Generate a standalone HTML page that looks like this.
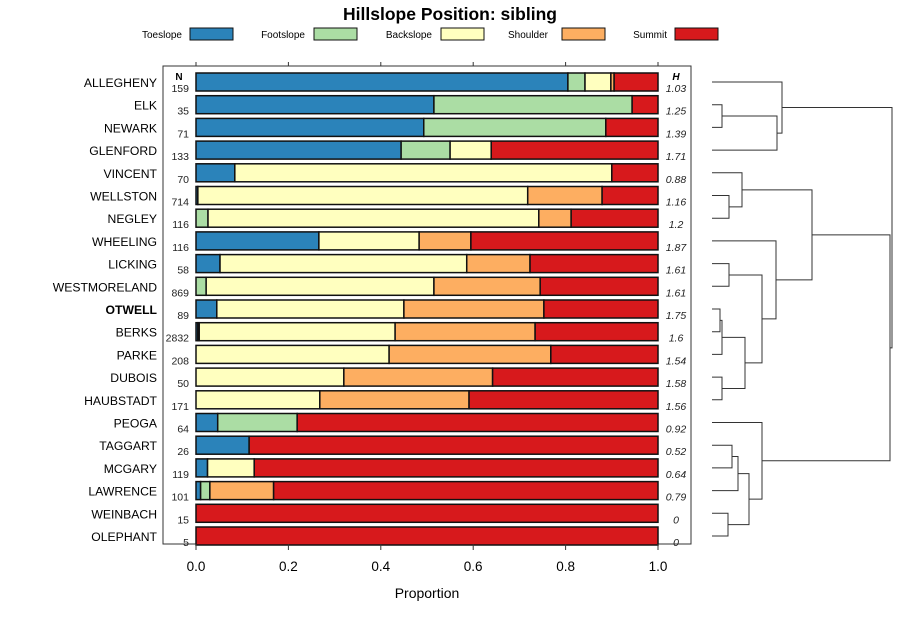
<!DOCTYPE html>
<html><head><meta charset="utf-8"><style>
body{margin:0;background:#fff;font-family:"Liberation Sans",sans-serif}
svg text{font-family:"Liberation Sans",sans-serif}
</style></head><body>
<svg id="chart" width="900" height="620" viewBox="0 0 900 620" xmlns="http://www.w3.org/2000/svg">
<text x="450" y="20" text-anchor="middle" font-size="17.5" font-weight="bold">Hillslope Position: sibling</text>
<g id="legend"></g>
<rect x="163" y="66" width="528" height="478" fill="none" stroke="#333" stroke-width="1"/>
<g id="bars"></g><g id="labels"></g><g id="axis"></g><g id="dendro"></g>
<text x="427" y="598" text-anchor="middle" font-size="14">Proportion</text>
</svg>
<script>
const series = ["Toeslope","Footslope","Backslope","Shoulder","Summit"];
const colors = ["#2B83BA","#ABDDA4","#FFFFBF","#FDAE61","#D7191C"];
const categories = ["ALLEGHENY","ELK","NEWARK","GLENFORD","VINCENT","WELLSTON","NEGLEY","WHEELING","LICKING","WESTMORELAND","OTWELL","BERKS","PARKE","DUBOIS","HAUBSTADT","PEOGA","TAGGART","MCGARY","LAWRENCE","WEINBACH","OLEPHANT"];
const nValues = [159,35,71,133,70,714,116,116,58,869,89,2832,208,50,171,64,26,119,101,15,5];
const hValues = ["1.03","1.25","1.39","1.71","0.88","1.16","1.2","1.87","1.61","1.61","1.75","1.6","1.54","1.58","1.56","0.92","0.52","0.64","0.79","0","0"];
const toeslope  = [0.805,0.515,0.493,0.444,0.084,0.004,0,0.266,0.052,0,0.045,0.004,0,0,0,0.047,0.115,0.025,0.01,0,0];
const footslope = [0.037,0.429,0.394,0.106,0,0,0.026,0,0,0.022,0,0.003,0,0,0,0.172,0,0,0.02,0,0];
const backslope = [0.056,0,0,0.089,0.816,0.714,0.716,0.217,0.534,0.493,0.405,0.424,0.418,0.32,0.268,0,0,0.101,0,0,0];
const shoulder  = [0.007,0,0,0,0,0.161,0.07,0.112,0.137,0.23,0.303,0.303,0.35,0.322,0.323,0,0,0,0.138,0,0];
const xTicks = [0,0.2,0.4,0.6,0.8,1.0];
const tickLabels = ["0.0","0.2","0.4","0.6","0.8","1.0"];
const NS="http://www.w3.org/2000/svg";
function mk(tag,attrs,parent){const e=document.createElementNS(NS,tag);for(const k in attrs)e.setAttribute(k,attrs[k]);parent.appendChild(e);return e;}
const xs=v=>196+v*462;
const ys=i=>82+i*22.7;
const bars=document.getElementById('bars'),labels=document.getElementById('labels'),axis=document.getElementById('axis');
categories.forEach((c,i)=>{
  const vals=[toeslope[i],footslope[i],backslope[i],shoulder[i]];
  const sum=vals.reduce((a,b)=>a+b,0);vals.push(Math.max(0,1-sum));
  let acc=0;
  vals.forEach((v,k)=>{ if(v<=0)return;
    const r=mk('rect',{x:xs(acc),y:ys(i)-9,width:v*462,height:18,fill:colors[k],stroke:'#111','stroke-width':1.5},bars);
    
    
    acc+=v;});
  const t=mk('text',{x:157,y:ys(i)+5,'text-anchor':'end','font-size':12.2,'font-weight':c==='OTWELL'?'bold':'normal'},labels);t.textContent=c;
  
  
  const n=mk('text',{x:189,y:ys(i)+10,'text-anchor':'end','font-size':10.5,fill:'#222'},labels);n.textContent=nValues[i];
  
  
  const h=mk('text',{x:676,y:ys(i)+10,'text-anchor':'middle','font-size':10.5,'font-style':'italic',fill:'#222'},labels);h.textContent=hValues[i];
  
  
});
let t=mk('text',{x:179,y:80,'text-anchor':'middle','font-size':10,'font-weight':'bold'},labels);t.textContent='N';


t=mk('text',{x:676,y:80,'text-anchor':'middle','font-size':10,'font-weight':'bold','font-style':'italic'},labels);t.textContent='H';


xTicks.forEach((v,i)=>{
  mk('line',{x1:xs(v),x2:xs(v),y1:62,y2:66,stroke:'#333'},axis);
  mk('line',{x1:xs(v),x2:xs(v),y1:544,y2:550,stroke:'#333'},axis);
  const l=mk('text',{x:xs(v),y:571,'text-anchor':'middle','font-size':13.5},axis);l.textContent=tickLabels[i];
  
  
});
const lg=document.getElementById('legend');
const legX=[[182,190],[305,314],[432,441],[548,562],[667,675]];
series.forEach((s,k)=>{
  const tx=mk('text',{x:legX[k][0],y:38,'text-anchor':'end','font-size':10},lg);tx.textContent=s;
  
  
  const r=mk('rect',{x:legX[k][1],y:28,width:43,height:12,fill:colors[k],stroke:'#111'},lg);
  
  
});
const tree=[[0,[[1,2,722],3,777],782],[[4,[5,6,729],742],[7,[[8,9,729],[[[10,11,720],12,722],[13,14,722],745],762],776],812],[15,[[[16,17,732],18,738],[19,20,728],749],762],890];
const topTree=[tree[0],[tree[1],tree[2],890],892];
const dg=document.getElementById('dendro');
function draw(n){
  if(typeof n==='number')return {y:ys(n),x:712};
  const a=draw(n[0]),b=draw(n[1]),h=n[2];
  mk('path',{d:`M${a.x},${a.y}H${h}V${b.y}H${b.x}`,fill:'none',stroke:'#333','stroke-width':1},dg);
  return {y:(a.y+b.y)/2,x:h};
}
draw(topTree);
</script>
</body></html>
